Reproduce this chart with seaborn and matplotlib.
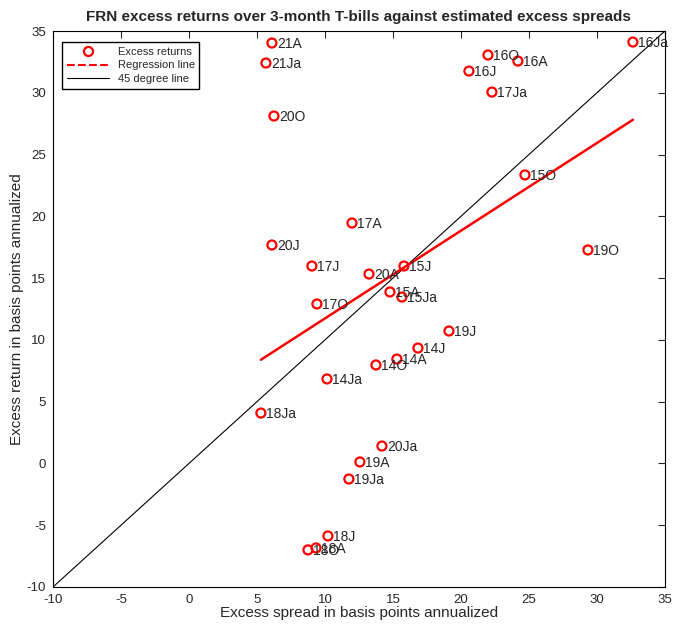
import numpy as np
import pandas as pd
import matplotlib
matplotlib.use('Agg')
import matplotlib.pyplot as plt
from matplotlib.lines import Line2D
import seaborn as sns

# quarter labels and values
labels = ['21A', '21Ja', '20O', '17A', '20J', '17J', '20A', '15J', '15A', '15Ja',
          '17O', '19J', '14J', '14A', '14O', '14Ja', '18Ja', '20Ja', '19A', '19Ja',
          '18J', '18A', '18O', '16O', '16A', '16J', '17Ja', '16Ja', '15O', '19O']
spread = [6.10, 5.66, 6.25, 11.99, 6.10, 9.04, 13.24, 15.81, 14.78, 15.66,
          9.41, 19.12, 16.84, 15.29, 13.75, 10.15, 5.29, 14.19, 12.57, 11.76,
          10.22, 9.34, 8.75, 21.99, 24.19, 20.59, 22.28, 32.65, 24.71, 29.34]
excess = [34.03, 32.41, 28.12, 19.46, 17.68, 15.98, 15.33, 15.98, 13.88, 13.47,
          12.91, 10.72, 9.34, 8.45, 7.97, 6.84, 4.08, 1.41, 0.12, -1.26,
          -5.87, -6.84, -7.00, 33.06, 32.57, 31.76, 30.06, 34.11, 23.35, 17.28]

df = pd.DataFrame({'label': labels, 'spread': spread, 'excess': excess})

sns.set_style('white')
plt.rcParams['font.family'] = ['Liberation Sans', 'DejaVu Sans']
plt.rcParams['axes.unicode_minus'] = False

fig = plt.figure(figsize=(6.75, 6.28), dpi=100)
ax = fig.add_axes([0.0785, 0.0653, 0.9065, 0.8853])

# 45 degree line
ax.axline((0, 0), slope=1, color='black', lw=0.8)

# regression line over the range of the data
slope, intercept = np.polyfit(df['spread'], df['excess'], 1)
xr = np.array([df['spread'].min(), df['spread'].max()])
sns.lineplot(x=xr, y=intercept + slope * xr, color='red', lw=1.8, ax=ax)

sns.scatterplot(data=df, x='spread', y='excess', marker='o', s=42,
                facecolors='none', edgecolor='red', linewidth=1.6, ax=ax, zorder=3)

for _, r in df.iterrows():
    ax.annotate(r['label'], (r['spread'], r['excess']), xytext=(3.5, -1),
                textcoords='offset points', va='center', ha='left', fontsize=10)

ax.set_xlim(-10, 35)
ax.set_ylim(-10, 35)
ax.set_xticks(range(-10, 36, 5))
ax.set_yticks(range(-10, 36, 5))
ax.tick_params(direction='in', top=True, right=True, length=5, width=0.8,
               labelsize=9.5, pad=5)
for s in ax.spines.values():
    s.set_color('black')
    s.set_linewidth(0.8)

ax.set_title('FRN excess returns over 3-month T-bills against estimated excess spreads',
             fontsize=11, fontweight='bold', pad=7)
ax.set_xlabel('Excess spread in basis points annualized', fontsize=11, labelpad=0)
ax.set_ylabel('Excess return in basis points annualized', fontsize=11, labelpad=2)

handles = [Line2D([], [], ls='none', marker='o', mfc='none', mec='red', mew=1.6, ms=6.5),
           Line2D([], [], color='red', ls='--', lw=1.5),
           Line2D([], [], color='black', lw=0.8)]
ax.legend(handles, ['Excess returns', 'Regression line', '45 degree line'],
          loc='upper left', bbox_to_anchor=(0.006, 0.99), fontsize=8, frameon=True,
          fancybox=False, edgecolor='black', framealpha=1, borderpad=0.4,
          handlelength=3.8, labelspacing=0.35)

fig.savefig('out.png', dpi=100)
